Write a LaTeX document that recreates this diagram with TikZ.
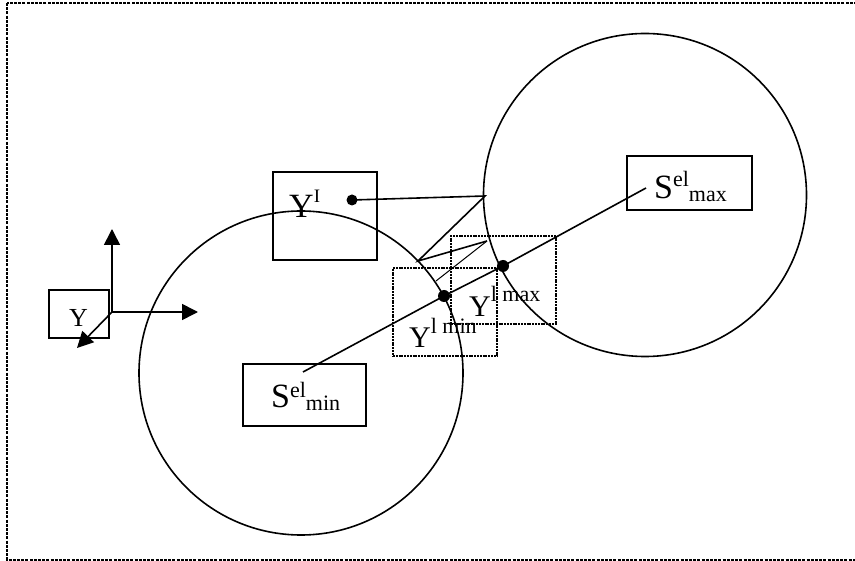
\documentclass[tikz,border=0pt]{standalone}
\usepackage{fontspec}
\setmainfont{Liberation Serif}
\usepackage{xcolor}
\usepackage{tikz}
\usetikzlibrary{shapes,arrows.meta,positioning,calc}

\newcommand{\fs}[1]{\fontsize{#1}{#1}\selectfont}

\begin{document}
\begin{tikzpicture}[x=1pt,y=-1pt,
    zone/.style={draw, circle, line width=1.6pt, minimum size=#1, inner sep=0pt},
    box/.style={draw, rectangle, line width=1.5pt, inner sep=0pt},
    dbox/.style={draw, rectangle, line width=1.5pt, inner sep=0pt, dash pattern=on 2pt off 0.8pt},
    lbl/.style={inner sep=0pt, anchor=base west},
    dot/.style={circle, fill, inner sep=0pt, minimum size=#1},
    axis/.style={line width=1.6pt, -{Triangle[length=16pt,width=16pt]}}]
    \useasboundingbox (0,0) rectangle (855,561);
    \draw[line width=1.2pt, dash pattern=on 3pt off 1.2pt] (7,3) rectangle (862,560);

    % Circles
    \node[zone=324pt] (cmin) at (301,373) {};
    \node[zone=323pt] (cmax) at (645,195) {};

    % Boxes
    \node[box, minimum width=60pt, minimum height=48pt] (ybox) at (79,314) {};
    \node[box, minimum width=104pt, minimum height=88pt] (yibox) at (325,216) {};
    \node[box, minimum width=123pt, minimum height=62pt] (sminbox) at (304.5,395) {};
    \node[box, minimum width=125pt, minimum height=54pt] (smaxbox) at (689.5,183) {};
    \node[dbox, minimum width=104pt, minimum height=88pt] (ylminbox) at (445,312) {};
    \node[dbox, minimum width=105pt, minimum height=88pt] (ylmaxbox) at (503.5,280) {};

    % Labels
    \node[lbl] (ylab) at (69,327) {\fs{26}Y};
    \node[lbl] (yilab) at (289,218) {\fs{34}Y\raisebox{15pt}{\fs{19}I}};
    \node[lbl] (sminlab) at (271,408) {\fs{34}S\raisebox{10pt}{\fs{22}el}\raisebox{-3pt}{\fs{22}min}};
    \node[lbl] (smaxlab) at (654,199) {\fs{34}S\raisebox{12pt}{\fs{22}el}\raisebox{-3pt}{\fs{22}max}};
    \node[lbl] (ylminlab) at (409,348) {\fs{30}Y\raisebox{14pt}{\fs{22}l min}};
    \node[lbl] (ylmaxlab) at (469,317) {\fs{30}Y\raisebox{15pt}{\fs{22}l max}};

    % Axes
    \coordinate (o) at (112,312);
    \coordinate (ox) at (198,312);
    \coordinate (oy) at (112,229);
    \coordinate (oz) at (77,348);
    \draw[axis] (o) -- (oy);
    \draw[axis] (o) -- (ox);
    \draw[axis] (o) -- (oz);

    % Points
    \node[dot=11pt] (pi) at (352,200) {};
    \node[dot=12pt] (pmin) at (444,296) {};
    \node[dot=12pt] (pmax) at (503,266) {};
    \coordinate (s1) at (303,372);
    \coordinate (s2) at (646,188);
    \coordinate (a) at (485,196);
    \coordinate (b) at (418,261);
    \coordinate (c) at (487,241);
    \coordinate (d) at (436,281);

    % Connecting lines
    \draw[line width=1.6pt] (s1) -- (pmin.center) -- (pmax.center) -- (s2);
    \draw[line width=1.6pt] (pi.center) -- (a) -- (b) -- (c);
    \draw[line width=1pt] (c) -- (d);
\end{tikzpicture}
\end{document}
